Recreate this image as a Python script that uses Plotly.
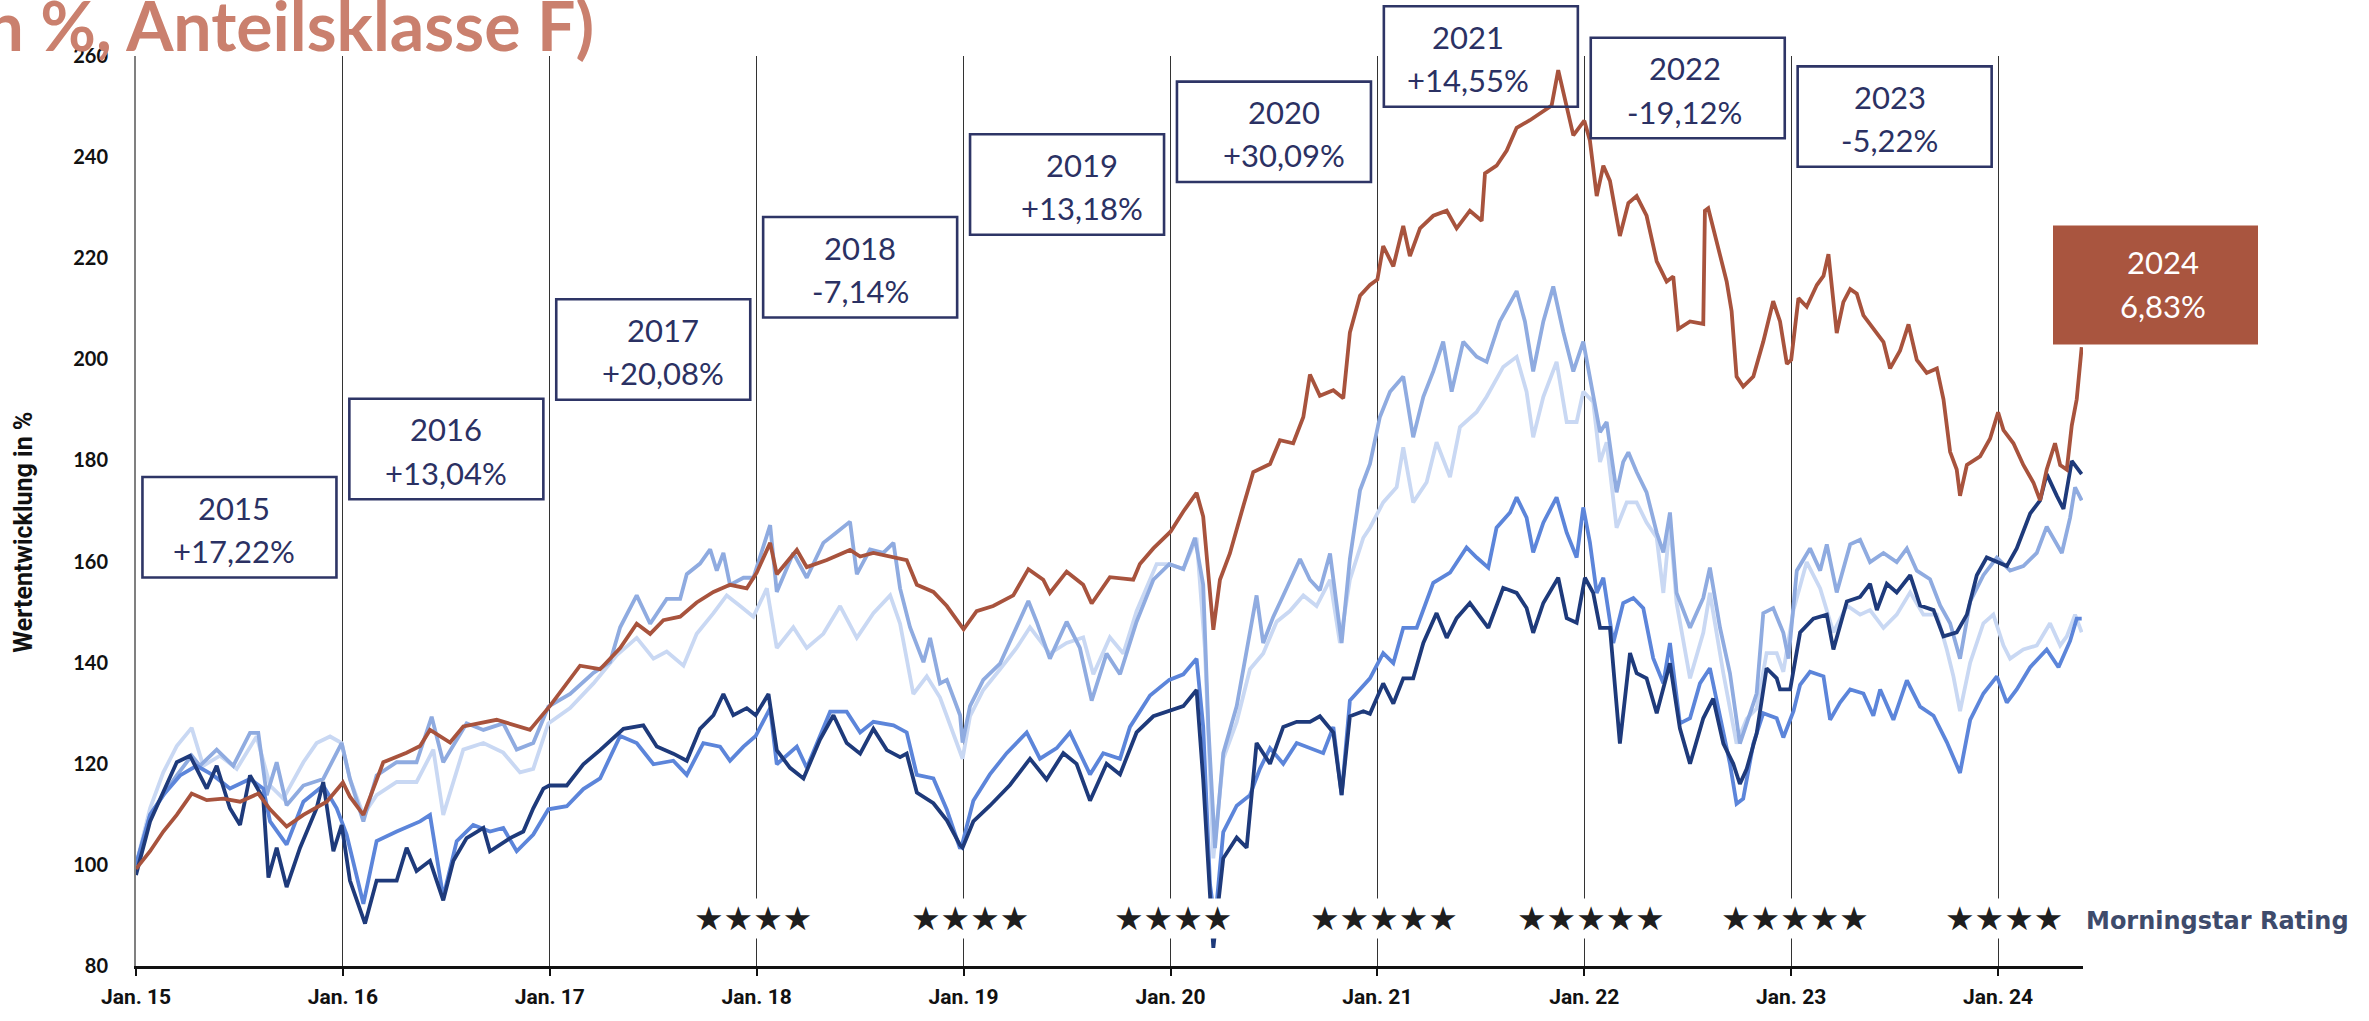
import plotly.graph_objects as go

# ---------------------------------------------------------------------------
# Index levels (start = 100), x given in decimal years
# ---------------------------------------------------------------------------
fund = [
    (2015.000, 99.2), (2015.068, 102.7), (2015.132, 106.6), (2015.197, 109.9), (2015.269, 114.1),
    (2015.342, 112.8), (2015.422, 113.1), (2015.503, 112.5), (2015.591, 114.1), (2015.648, 111.0),
    (2015.728, 107.6), (2015.809, 109.9), (2015.922, 112.5), (2016.000, 116.3), (2016.034, 113.5),
    (2016.099, 109.9), (2016.195, 120.3), (2016.308, 122.2), (2016.373, 123.5), (2016.421, 126.7),
    (2016.518, 124.2), (2016.582, 127.4), (2016.743, 128.7), (2016.904, 126.7), (2017.000, 131.4),
    (2017.146, 139.4), (2017.243, 138.7), (2017.340, 142.9), (2017.420, 147.7), (2017.485, 145.7),
    (2017.549, 148.4), (2017.630, 149.1), (2017.710, 151.9), (2017.791, 154.0), (2017.871, 155.4),
    (2017.952, 154.7), (2018.000, 157.8), (2018.065, 163.7), (2018.097, 157.5), (2018.194, 162.3),
    (2018.242, 158.9), (2018.339, 160.3), (2018.451, 162.3), (2018.500, 161.0), (2018.564, 161.7),
    (2018.645, 161.0), (2018.725, 160.3), (2018.774, 155.4), (2018.854, 154.0), (2018.919, 151.2),
    (2018.967, 148.5), (2019.000, 146.6), (2019.063, 150.2), (2019.143, 151.2), (2019.240, 153.3),
    (2019.313, 158.5), (2019.385, 156.4), (2019.417, 153.8), (2019.498, 158.0), (2019.578, 155.4),
    (2019.619, 151.7), (2019.707, 156.9), (2019.820, 156.4), (2019.852, 159.5), (2019.917, 162.6),
    (2020.000, 165.9), (2020.062, 169.9), (2020.126, 173.6), (2020.158, 168.9), (2020.207, 146.5),
    (2020.239, 156.4), (2020.287, 161.6), (2020.352, 171.0), (2020.400, 177.7), (2020.481, 179.3),
    (2020.529, 184.0), (2020.593, 183.4), (2020.642, 188.6), (2020.674, 197.0), (2020.722, 192.8),
    (2020.787, 193.9), (2020.835, 192.3), (2020.867, 205.3), (2020.916, 212.6), (2020.964, 214.7),
    (2021.000, 215.8), (2021.028, 222.4), (2021.077, 218.4), (2021.125, 226.4), (2021.157, 220.4),
    (2021.206, 225.9), (2021.270, 228.4), (2021.335, 229.4), (2021.383, 225.9), (2021.447, 229.4),
    (2021.504, 227.4), (2021.520, 236.8), (2021.576, 238.3), (2021.625, 241.3), (2021.673, 245.8),
    (2021.737, 247.3), (2021.786, 248.7), (2021.842, 250.2), (2021.874, 257.2), (2021.915, 250.2),
    (2021.947, 244.3), (2022.000, 247.2), (2022.027, 243.3), (2022.060, 232.3), (2022.092, 238.3),
    (2022.124, 235.3), (2022.172, 224.4), (2022.213, 230.9), (2022.253, 232.3), (2022.301, 228.4),
    (2022.350, 219.4), (2022.398, 215.4), (2022.430, 216.4), (2022.454, 206.0), (2022.511, 207.5),
    (2022.575, 207.0), (2022.583, 229.4), (2022.599, 229.9), (2022.640, 223.4), (2022.688, 215.4),
    (2022.712, 209.5), (2022.736, 196.6), (2022.768, 194.6), (2022.817, 196.6), (2022.865, 203.5),
    (2022.913, 211.5), (2022.946, 207.5), (2022.979, 199.1), (2023.000, 199.9), (2023.035, 212.1),
    (2023.075, 210.4), (2023.124, 214.7), (2023.156, 216.5), (2023.180, 220.8), (2023.220, 205.2),
    (2023.252, 211.3), (2023.285, 213.9), (2023.317, 213.0), (2023.349, 208.7), (2023.397, 206.1),
    (2023.446, 203.4), (2023.478, 198.2), (2023.526, 201.7), (2023.567, 206.9), (2023.607, 199.9),
    (2023.655, 197.3), (2023.704, 198.2), (2023.736, 192.1), (2023.768, 181.7), (2023.800, 178.2),
    (2023.816, 173.0), (2023.849, 179.1), (2023.913, 180.8), (2023.961, 184.3), (2024.000, 189.5),
    (2024.026, 186.0), (2024.074, 183.4), (2024.122, 179.1), (2024.171, 175.6), (2024.203, 172.1),
    (2024.235, 178.2), (2024.275, 183.4), (2024.300, 179.1), (2024.332, 178.2), (2024.356, 186.9),
    (2024.380, 192.1), (2024.404, 202.4),
]

peer_a = [
    (2015.000, 100.0), (2015.068, 109.9), (2015.132, 113.8), (2015.197, 117.7), (2015.269, 121.6),
    (2015.309, 119.6), (2015.390, 122.8), (2015.470, 119.6), (2015.551, 126.1), (2015.591, 126.1),
    (2015.632, 113.8), (2015.680, 120.3), (2015.728, 111.8), (2015.809, 115.7), (2015.905, 117.0),
    (2015.994, 124.1), (2016.034, 117.0), (2016.099, 108.6), (2016.163, 117.7), (2016.260, 120.3),
    (2016.356, 120.3), (2016.429, 129.3), (2016.485, 120.3), (2016.598, 128.0), (2016.679, 126.7),
    (2016.775, 128.0), (2016.840, 122.8), (2016.920, 124.1), (2016.993, 131.3), (2017.098, 133.8),
    (2017.211, 138.0), (2017.291, 140.1), (2017.340, 147.0), (2017.420, 153.3), (2017.485, 147.7),
    (2017.565, 152.6), (2017.630, 152.6), (2017.662, 157.5), (2017.726, 159.6), (2017.775, 162.4),
    (2017.807, 158.2), (2017.839, 161.7), (2017.871, 155.4), (2017.936, 156.8), (2017.984, 156.8),
    (2018.065, 167.2), (2018.097, 154.0), (2018.177, 161.7), (2018.242, 156.8), (2018.322, 163.7),
    (2018.387, 165.8), (2018.451, 167.9), (2018.484, 157.5), (2018.548, 162.4), (2018.612, 161.7),
    (2018.661, 163.7), (2018.693, 154.7), (2018.741, 147.0), (2018.806, 140.1), (2018.838, 144.9),
    (2018.886, 135.9), (2018.919, 136.6), (2018.983, 129.6), (2018.995, 124.2), (2019.031, 131.4),
    (2019.095, 136.6), (2019.176, 139.8), (2019.256, 147.0), (2019.313, 152.2), (2019.353, 148.1),
    (2019.417, 140.8), (2019.498, 148.1), (2019.562, 142.9), (2019.619, 132.5), (2019.691, 141.8),
    (2019.756, 137.7), (2019.836, 148.1), (2019.917, 156.4), (2019.994, 159.5), (2020.062, 158.5),
    (2020.118, 164.7), (2020.158, 155.4), (2020.183, 127.3), (2020.215, 103.3), (2020.255, 122.1),
    (2020.320, 131.4), (2020.384, 146.0), (2020.416, 153.3), (2020.448, 143.9), (2020.497, 149.1),
    (2020.545, 153.3), (2020.626, 160.5), (2020.674, 156.4), (2020.722, 154.3), (2020.771, 161.6),
    (2020.827, 143.9), (2020.867, 160.5), (2020.916, 174.1), (2020.964, 179.3), (2021.012, 188.6),
    (2021.061, 193.6), (2021.125, 196.6), (2021.173, 184.6), (2021.222, 192.6), (2021.270, 197.6),
    (2021.318, 203.5), (2021.359, 193.6), (2021.415, 203.5), (2021.480, 200.5), (2021.528, 199.5),
    (2021.592, 207.5), (2021.673, 213.5), (2021.713, 207.5), (2021.753, 197.6), (2021.802, 207.5),
    (2021.850, 214.4), (2021.898, 205.5), (2021.947, 197.6), (2021.995, 203.5), (2022.027, 196.6),
    (2022.076, 185.6), (2022.108, 187.6), (2022.156, 173.7), (2022.188, 179.7), (2022.213, 181.6),
    (2022.253, 177.7), (2022.301, 173.7), (2022.350, 165.7), (2022.382, 161.8), (2022.414, 169.7),
    (2022.446, 153.8), (2022.511, 146.9), (2022.575, 152.8), (2022.607, 158.8), (2022.656, 146.9),
    (2022.704, 137.9), (2022.752, 124.0), (2022.785, 128.0), (2022.833, 133.9), (2022.865, 149.8),
    (2022.913, 150.8), (2022.962, 145.9), (2022.987, 140.8), (2023.027, 158.2), (2023.091, 162.6),
    (2023.140, 158.2), (2023.172, 163.4), (2023.220, 153.9), (2023.285, 163.4), (2023.333, 164.3),
    (2023.381, 159.9), (2023.446, 161.7), (2023.510, 159.9), (2023.559, 162.6), (2023.607, 158.2),
    (2023.671, 156.5), (2023.720, 151.3), (2023.768, 147.8), (2023.816, 140.8), (2023.865, 152.1),
    (2023.929, 157.3), (2023.994, 160.8), (2024.058, 158.2), (2024.122, 159.1), (2024.187, 161.7),
    (2024.235, 166.9), (2024.284, 163.4), (2024.308, 161.7), (2024.348, 168.7), (2024.372, 174.7),
    (2024.404, 172.1),
]

peer_b = [
    (2015.000, 100.0), (2015.068, 111.2), (2015.132, 118.3), (2015.197, 123.5), (2015.269, 127.1),
    (2015.325, 119.6), (2015.406, 121.6), (2015.487, 119.0), (2015.583, 125.4), (2015.648, 115.7),
    (2015.712, 113.1), (2015.809, 120.3), (2015.873, 124.1), (2015.938, 125.4), (2015.994, 124.1),
    (2016.034, 117.0), (2016.099, 109.9), (2016.163, 113.8), (2016.260, 116.4), (2016.356, 116.4),
    (2016.437, 122.8), (2016.485, 109.9), (2016.582, 122.8), (2016.679, 124.1), (2016.775, 122.2),
    (2016.856, 118.3), (2016.920, 119.0), (2016.993, 128.0), (2017.098, 131.0), (2017.211, 135.9),
    (2017.324, 141.5), (2017.420, 144.9), (2017.501, 140.8), (2017.565, 142.2), (2017.646, 139.4),
    (2017.710, 145.7), (2017.791, 149.8), (2017.855, 153.3), (2017.920, 151.2), (2017.984, 149.1),
    (2018.049, 154.7), (2018.097, 142.9), (2018.177, 147.0), (2018.242, 142.9), (2018.322, 145.7),
    (2018.403, 151.2), (2018.484, 144.9), (2018.564, 149.8), (2018.645, 153.3), (2018.693, 147.7),
    (2018.757, 133.8), (2018.822, 137.3), (2018.886, 133.1), (2018.983, 122.7), (2018.995, 121.0),
    (2019.031, 129.4), (2019.095, 134.6), (2019.176, 138.7), (2019.256, 142.9), (2019.321, 147.0),
    (2019.417, 141.8), (2019.498, 143.9), (2019.578, 145.0), (2019.627, 137.7), (2019.707, 145.0),
    (2019.772, 141.8), (2019.836, 150.2), (2019.933, 159.5), (2019.994, 159.5), (2020.062, 158.5),
    (2020.126, 164.7), (2020.166, 142.9), (2020.207, 101.3), (2020.255, 121.0), (2020.320, 128.3),
    (2020.384, 138.7), (2020.448, 141.8), (2020.513, 148.1), (2020.577, 150.2), (2020.642, 153.3),
    (2020.706, 151.2), (2020.771, 156.4), (2020.819, 143.9), (2020.867, 156.4), (2020.932, 164.7),
    (2020.964, 166.7), (2021.028, 171.7), (2021.093, 174.7), (2021.125, 182.6), (2021.173, 171.7),
    (2021.238, 175.7), (2021.286, 183.6), (2021.351, 176.7), (2021.399, 186.6), (2021.480, 189.6),
    (2021.528, 192.6), (2021.608, 198.5), (2021.673, 200.5), (2021.721, 193.6), (2021.753, 184.6),
    (2021.802, 192.6), (2021.866, 199.5), (2021.915, 187.6), (2021.963, 187.6), (2021.995, 193.6),
    (2022.043, 191.6), (2022.076, 179.7), (2022.108, 183.6), (2022.156, 166.7), (2022.205, 171.7),
    (2022.253, 171.7), (2022.301, 167.7), (2022.350, 164.7), (2022.382, 153.8), (2022.414, 167.7),
    (2022.446, 151.8), (2022.511, 136.9), (2022.575, 145.9), (2022.607, 153.8), (2022.672, 137.9),
    (2022.736, 124.0), (2022.785, 128.9), (2022.833, 130.9), (2022.881, 141.9), (2022.930, 141.9),
    (2022.962, 138.2), (2023.011, 150.4), (2023.075, 159.9), (2023.140, 154.7), (2023.204, 146.0),
    (2023.269, 151.3), (2023.333, 149.5), (2023.381, 150.4), (2023.446, 146.9), (2023.510, 149.5),
    (2023.575, 153.9), (2023.639, 149.5), (2023.704, 149.5), (2023.752, 142.6), (2023.784, 137.3),
    (2023.816, 130.4), (2023.865, 140.0), (2023.929, 147.8), (2023.977, 149.5), (2024.026, 143.4),
    (2024.058, 140.8), (2024.122, 142.6), (2024.187, 143.4), (2024.251, 147.8), (2024.300, 143.4),
    (2024.332, 145.2), (2024.372, 149.5), (2024.404, 146.0),
]

peer_c = [
    (2015.000, 100.0), (2015.068, 109.9), (2015.132, 113.8), (2015.213, 117.7), (2015.293, 119.6),
    (2015.374, 117.7), (2015.454, 115.1), (2015.551, 117.0), (2015.615, 115.1), (2015.648, 108.6),
    (2015.728, 104.0), (2015.809, 112.5), (2015.905, 115.7), (2015.970, 111.2), (2016.018, 106.0),
    (2016.099, 92.3), (2016.163, 104.7), (2016.260, 106.6), (2016.373, 108.6), (2016.421, 109.9),
    (2016.485, 93.6), (2016.550, 104.7), (2016.630, 107.9), (2016.711, 106.6), (2016.775, 107.3),
    (2016.840, 102.7), (2016.920, 106.0), (2016.993, 111.0), (2017.082, 111.6), (2017.162, 115.0),
    (2017.243, 117.1), (2017.340, 125.5), (2017.420, 124.1), (2017.501, 119.9), (2017.597, 120.6),
    (2017.662, 117.8), (2017.742, 124.1), (2017.823, 123.4), (2017.871, 120.6), (2017.936, 123.4),
    (2017.995, 125.5), (2018.065, 131.0), (2018.097, 119.9), (2018.194, 123.4), (2018.242, 119.2),
    (2018.355, 130.3), (2018.435, 130.3), (2018.500, 126.2), (2018.564, 128.3), (2018.661, 127.6),
    (2018.725, 126.2), (2018.774, 117.8), (2018.854, 117.1), (2018.919, 110.9), (2018.983, 103.2),
    (2018.995, 104.4), (2019.047, 112.7), (2019.127, 117.9), (2019.208, 122.1), (2019.305, 126.2),
    (2019.369, 121.0), (2019.450, 123.1), (2019.514, 126.2), (2019.611, 117.9), (2019.675, 122.1),
    (2019.756, 121.0), (2019.804, 127.3), (2019.901, 133.5), (2019.994, 136.6), (2020.062, 137.7),
    (2020.126, 140.8), (2020.158, 127.3), (2020.191, 96.1), (2020.215, 88.8), (2020.255, 106.5),
    (2020.320, 111.7), (2020.384, 113.8), (2020.432, 119.0), (2020.481, 123.1), (2020.545, 120.0),
    (2020.610, 124.1), (2020.674, 123.1), (2020.738, 122.1), (2020.787, 127.3), (2020.827, 113.8),
    (2020.867, 132.5), (2020.932, 135.6), (2020.964, 136.9), (2021.028, 141.9), (2021.077, 139.9),
    (2021.125, 146.9), (2021.190, 146.9), (2021.270, 155.8), (2021.351, 157.8), (2021.431, 162.8),
    (2021.480, 160.8), (2021.536, 158.8), (2021.576, 166.7), (2021.641, 169.7), (2021.673, 172.7),
    (2021.721, 168.7), (2021.753, 161.8), (2021.802, 167.7), (2021.866, 172.7), (2021.915, 165.7),
    (2021.963, 160.8), (2021.995, 170.7), (2022.027, 163.8), (2022.060, 153.8), (2022.092, 156.8),
    (2022.140, 143.9), (2022.188, 151.8), (2022.237, 152.8), (2022.285, 150.8), (2022.333, 140.9),
    (2022.382, 135.9), (2022.414, 143.9), (2022.462, 128.0), (2022.511, 129.0), (2022.559, 135.9),
    (2022.607, 138.9), (2022.656, 129.0), (2022.704, 120.0), (2022.736, 112.1), (2022.768, 113.1),
    (2022.817, 124.0), (2022.865, 130.0), (2022.930, 129.0), (2022.962, 125.2), (2023.011, 130.4),
    (2023.043, 135.6), (2023.091, 138.2), (2023.156, 137.3), (2023.188, 128.7), (2023.236, 132.1),
    (2023.285, 134.7), (2023.349, 133.9), (2023.397, 129.5), (2023.430, 134.7), (2023.494, 128.7),
    (2023.559, 136.5), (2023.623, 131.3), (2023.688, 129.5), (2023.752, 124.3), (2023.816, 118.2),
    (2023.865, 128.7), (2023.929, 133.9), (2023.994, 137.3), (2024.042, 132.1), (2024.090, 134.7),
    (2024.155, 139.1), (2024.235, 142.6), (2024.292, 139.1), (2024.348, 144.3), (2024.380, 148.7),
    (2024.404, 148.7),
]

peer_d = [
    (2015.000, 98.0), (2015.068, 108.6), (2015.132, 114.4), (2015.197, 120.3), (2015.261, 121.6),
    (2015.342, 115.1), (2015.390, 119.6), (2015.454, 111.2), (2015.503, 107.9), (2015.551, 117.7),
    (2015.615, 113.1), (2015.640, 97.5), (2015.680, 103.4), (2015.728, 95.6), (2015.793, 103.4),
    (2015.873, 111.2), (2015.905, 116.4), (2015.954, 102.7), (2015.994, 107.9), (2016.034, 96.9),
    (2016.107, 88.4), (2016.163, 96.9), (2016.260, 96.9), (2016.308, 103.4), (2016.356, 98.8),
    (2016.421, 100.8), (2016.485, 93.0), (2016.534, 100.8), (2016.598, 105.3), (2016.679, 107.3),
    (2016.711, 102.7), (2016.808, 105.3), (2016.872, 106.6), (2016.920, 111.2), (2016.969, 115.1),
    (2016.998, 115.7), (2017.082, 115.7), (2017.162, 119.9), (2017.243, 122.7), (2017.356, 126.9),
    (2017.452, 127.6), (2017.517, 123.4), (2017.597, 122.0), (2017.662, 120.6), (2017.726, 126.9),
    (2017.791, 129.6), (2017.839, 133.8), (2017.887, 129.6), (2017.952, 131.0), (2017.995, 129.6),
    (2018.057, 133.8), (2018.097, 122.7), (2018.161, 119.2), (2018.226, 117.1), (2018.306, 124.8),
    (2018.371, 129.6), (2018.435, 124.1), (2018.500, 122.0), (2018.564, 126.9), (2018.629, 122.7),
    (2018.693, 121.3), (2018.725, 122.0), (2018.774, 114.3), (2018.854, 112.2), (2018.919, 108.8),
    (2018.983, 103.9), (2018.995, 103.4), (2019.047, 108.6), (2019.127, 111.7), (2019.224, 115.8),
    (2019.321, 121.0), (2019.401, 116.9), (2019.482, 122.1), (2019.546, 120.0), (2019.611, 112.7),
    (2019.691, 120.0), (2019.756, 117.9), (2019.836, 126.2), (2019.917, 129.4), (2019.994, 130.4),
    (2020.062, 131.4), (2020.126, 134.6), (2020.158, 116.9), (2020.191, 94.0), (2020.207, 83.6),
    (2020.255, 101.3), (2020.320, 105.4), (2020.368, 103.4), (2020.416, 124.1), (2020.481, 120.0),
    (2020.545, 127.3), (2020.610, 128.3), (2020.674, 128.3), (2020.722, 129.4), (2020.787, 126.2),
    (2020.827, 113.8), (2020.867, 129.4), (2020.932, 130.4), (2020.964, 129.9), (2021.028, 135.9),
    (2021.077, 131.9), (2021.125, 136.9), (2021.173, 136.9), (2021.222, 143.9), (2021.286, 149.8),
    (2021.335, 144.9), (2021.383, 148.8), (2021.447, 151.8), (2021.536, 146.9), (2021.608, 154.8),
    (2021.673, 153.8), (2021.721, 150.8), (2021.753, 145.9), (2021.802, 151.8), (2021.874, 156.8),
    (2021.915, 148.8), (2021.963, 147.9), (2022.003, 156.8), (2022.043, 153.8), (2022.076, 146.9),
    (2022.124, 146.9), (2022.172, 124.0), (2022.221, 141.9), (2022.253, 137.9), (2022.301, 136.9),
    (2022.350, 130.0), (2022.414, 139.9), (2022.462, 127.0), (2022.511, 120.0), (2022.575, 129.0),
    (2022.623, 132.9), (2022.672, 124.0), (2022.720, 120.0), (2022.752, 116.0), (2022.785, 119.0),
    (2022.833, 126.0), (2022.881, 138.9), (2022.930, 136.9), (2022.946, 134.7), (2022.995, 134.7),
    (2023.043, 146.0), (2023.107, 148.7), (2023.172, 149.5), (2023.204, 142.6), (2023.269, 152.1),
    (2023.333, 153.0), (2023.381, 155.6), (2023.414, 150.4), (2023.462, 155.6), (2023.510, 153.9),
    (2023.575, 157.3), (2023.623, 151.3), (2023.688, 150.4), (2023.736, 145.2), (2023.800, 146.0),
    (2023.849, 149.5), (2023.897, 157.3), (2023.945, 160.8), (2023.994, 159.9), (2024.042, 159.1),
    (2024.090, 162.6), (2024.155, 169.5), (2024.203, 172.1), (2024.235, 177.3), (2024.284, 173.0),
    (2024.316, 170.4), (2024.356, 179.9), (2024.404, 177.3),
]

# calendar-year performance of the fund
perf_years = ["2015", "2016", "2017", "2018", "2019", "2020", "2021", "2022", "2023", "2024"]
perf_values = ["+17,22%", "+13,04%", "+20,08%", "-7,14%", "+13,18%", "+30,09%",
               "+14,55%", "-19,12%", "-5,22%", "6,83%"]

# Morningstar rating at each year start
rating_dates = [2018, 2019, 2020, 2021, 2022, 2023, 2024]
rating_stars = [4, 4, 4, 5, 5, 5, 4]

tick_years = [2015, 2016, 2017, 2018, 2019, 2020, 2021, 2022, 2023, 2024]
tick_labels = ["Jan. 15", "Jan. 16", "Jan. 17", "Jan. 18", "Jan. 19",
               "Jan. 20", "Jan. 21", "Jan. 22", "Jan. 23", "Jan. 24"]
y_ticks = [80, 100, 120, 140, 160, 180, 200, 220, 240, 260]

# ---------------------------------------------------------------------------
# Geometry
# ---------------------------------------------------------------------------
W, H = 2369, 1021
ML, MR, MT, MB = 136, 286, 56, 41
PW, PH = W - ML - MR, H - MT - MB
YEAR_PX = 206.9


def pxx(x):
    return (x - ML) / PW


def pxy(y):
    return (H - MB - y) / PH


NAVY_TXT = "#2B3163"
NAVY_BOX = "#2E3566"
BRICK = "#A9553F"
NARROW = "Liberation Sans Narrow, Arial Narrow, Roboto, sans-serif"
BOXFONT = "Lato, Open Sans, sans-serif"

series_style = [
    (peer_b, "#C9D8F3"),
    (peer_a, "#8FABE0"),
    (peer_c, "#5C85DA"),
    (peer_d, "#1E3A7B"),
    (fund, "#A8533D"),
]

fig = go.Figure()
for data, color in series_style:
    fig.add_trace(go.Scatter(
        x=[t for t, _ in data], y=[v for _, v in data],
        mode="lines", line=dict(color=color, width=3.8),
        hoverinfo="skip", showlegend=False,
    ))

shapes = []
annotations = []

# performance boxes (outline) for 2015-2023
box_center_y = [534.5, 455, 354, 270.5, 186.5, 133, 56.5, 88.5, 117.5]
box_text_dx = [-5, 0, 10, 0, 15, 10, -13, -3, -5]
box_w, box_h = 194, 102
for i in range(9):
    cx = ML + (int(perf_years[i]) - 2015 + 0.5) * YEAR_PX
    cy = box_center_y[i]
    shapes.append(dict(
        type="rect", xref="paper", yref="paper",
        x0=pxx(cx - box_w / 2), x1=pxx(cx + box_w / 2),
        y0=pxy(cy + box_h / 2), y1=pxy(cy - box_h / 2),
        line=dict(color=NAVY_BOX, width=2.6), fillcolor="rgba(0,0,0,0)", layer="above",
    ))
    for txt, dy in ((perf_years[i], -20), (perf_values[i], 24)):
        annotations.append(dict(
            xref="paper", yref="paper", x=pxx(cx + box_text_dx[i]), y=pxy(cy + dy),
            text=txt, showarrow=False, xanchor="center", yanchor="middle",
            font=dict(family=BOXFONT, size=31, color=NAVY_TXT),
        ))

# current year box (filled)
x0, x1, y0, y1 = 2053, 2258, 228, 349
shapes.append(dict(
    type="rect", xref="paper", yref="paper",
    x0=pxx(x0), x1=pxx(x1), y0=pxy(y1), y1=pxy(y0),
    line=dict(width=0), fillcolor=BRICK, layer="above",
))
for txt, ty in ((perf_years[9], 265), (perf_values[9], 310)):
    annotations.append(dict(
        xref="paper", yref="paper", x=pxx(2163), y=pxy(ty),
        text=txt, showarrow=False, xanchor="center", yanchor="middle",
        font=dict(family=BOXFONT, size=31, color="white"),
    ))

# Morningstar rating stars
star_dx = [-0.02, 0.03, 0.01, 0.03, 0.03, 0.02, 0.03]
for d, n, off in zip(rating_dates, rating_stars, star_dx):
    annotations.append(dict(
        xref="x", yref="paper", x=d + off, y=pxy(932),
        text="★" * n, showarrow=False, xanchor="center", yanchor="middle",
        font=dict(family="DejaVu Sans", size=33, color="#1E1E1E"),
        bgcolor="white", borderpad=0,
    ))
annotations.append(dict(
    xref="paper", yref="paper", x=pxx(2084), y=pxy(934),
    text="Morningstar Rating", showarrow=False, xanchor="left", yanchor="middle",
    font=dict(family="DejaVu Sans", size=24, color="#3E4B6B", weight="bold"),
))

# y axis title
annotations.append(dict(
    xref="paper", yref="paper", x=pxx(24), y=pxy(540),
    text="Wertentwicklung in %", showarrow=False, textangle=-90,
    xanchor="center", yanchor="middle",
    font=dict(family=NARROW, size=25, color="#111111", weight="bold"),
))

# headline (runs off the left edge)
annotations.append(dict(
    xref="paper", yref="paper", x=pxx(596), y=pxy(24),
    text="Wertentwicklung (in %, Anteilsklasse F)", showarrow=False,
    xanchor="right", yanchor="middle",
    font=dict(family="Lato, sans-serif", size=68, color="#CA806E", weight="bold"),
))

fig.update_layout(
    width=W, height=H,
    margin=dict(l=ML, r=MR, t=MT, b=MB),
    paper_bgcolor="white", plot_bgcolor="white",
    shapes=shapes, annotations=annotations,
    xaxis=dict(
        range=[2015, 2015 + PW / YEAR_PX],
        tickmode="array", tickvals=tick_years, ticktext=tick_labels,
        showgrid=True, gridcolor="#333333", gridwidth=1,
        showline=True, linecolor="#111111", linewidth=3,
        ticks="outside", ticklen=7, tickwidth=1.5, tickcolor="#111111",
        tickfont=dict(family=NARROW, size=21, color="#111111", weight="bold"),
        ticklabelstandoff=3,
        zeroline=False, fixedrange=True,
    ),
    yaxis=dict(
        range=[80, 260], tickmode="array", tickvals=y_ticks,
        showgrid=False, zeroline=False,
        showline=True, linecolor="#808080", linewidth=2,
        ticks="", ticklabelstandoff=22,
        tickfont=dict(family="Lato, sans-serif", size=20, color="#111111", weight="bold"),
        fixedrange=True,
    ),
)

fig.write_html("out.html")
